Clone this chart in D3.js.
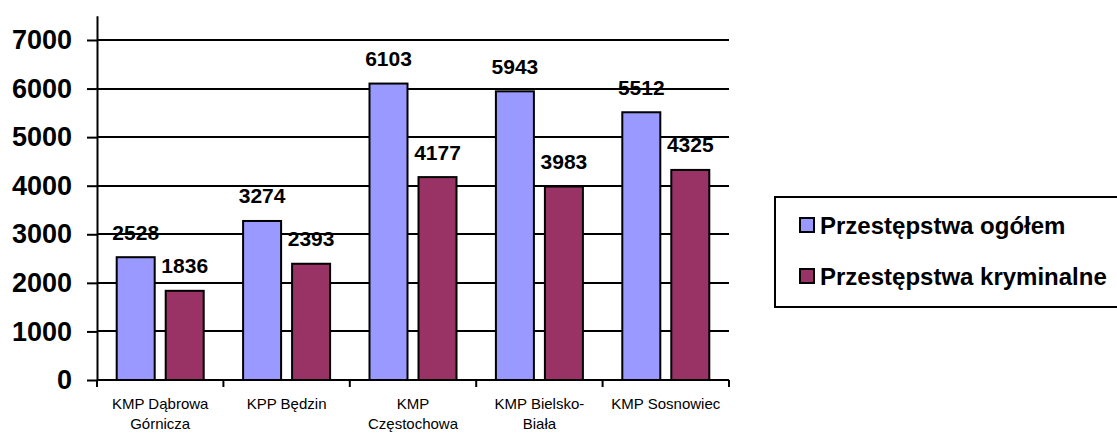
<!DOCTYPE html>
<html>
<head>
<meta charset="utf-8">
<script src="https://cdn.jsdelivr.net/npm/d3@7"></script>
<style>
  body { margin: 0; background: #fff; }
  svg { display: block; font-family: Arial, "Liberation Sans", sans-serif; }
</style>
</head>
<body>
<svg width="1117" height="433"></svg>
<script>
var categories = ["KMP Dąbrowa\nGórnicza", "KPP Będzin", "KMP\nCzęstochowa", "KMP Bielsko-\nBiała", "KMP Sosnowiec"];
var seriesNames = ["Przestępstwa ogółem", "Przestępstwa kryminalne"];
var ogolem = [2528, 3274, 6103, 5943, 5512];
var kryminalne = [1836, 2393, 4177, 3983, 4325];
var yTicks = [0, 1000, 2000, 3000, 4000, 5000, 6000, 7000];

var colors = ["#9999ff", "#993366"];
var values = [ogolem, kryminalne];

var svg = d3.select("svg");

var x = d3.scaleBand()
  .domain(categories)
  .range([97, 729]);

var inner = d3.scaleBand()
  .domain(seriesNames)
  .range([0, 87])
  .paddingInner(0.2245);
var groupOffset = (x.bandwidth() - 87) / 2;

var y = d3.scaleLinear()
  .domain([0, 7500])
  .range([380, 15.7]);

// gridlines
svg.append("g")
  .selectAll("line")
  .data(yTicks.slice(1))
  .enter().append("line")
    .attr("x1", 97)
    .attr("x2", 729)
    .attr("y1", function(d) { return Math.round(y(d)); })
    .attr("y2", function(d) { return Math.round(y(d)); })
    .attr("stroke", "#000")
    .attr("stroke-width", 2);

// bars
var group = svg.append("g")
  .selectAll("g")
  .data(categories)
  .enter().append("g")
    .attr("transform", function(d) { return "translate(" + (x(d) + groupOffset) + ",0)"; });

seriesNames.forEach(function(s, si) {
  group.append("rect")
    .attr("x", inner(s))
    .attr("width", inner.bandwidth())
    .attr("y", function(d, i) { return y(values[si][i]); })
    .attr("height", function(d, i) { return y(0) - y(values[si][i]); })
    .attr("fill", colors[si])
    .attr("stroke", "#000")
    .attr("stroke-width", 2);

  group.append("text")
    .attr("x", inner(s) + inner.bandwidth() / 2)
    .attr("y", function(d, i) { return y(values[si][i]) - 17.5; })
    .attr("text-anchor", "middle")
    .attr("font-size", "21px")
    .attr("font-weight", "bold")
    .text(function(d, i) { return values[si][i]; });
});

// y axis
var yAxis = svg.append("g")
  .attr("transform", "translate(97,0)")
  .call(d3.axisLeft(y).tickValues(yTicks).tickSize(10).tickSizeOuter(0).tickPadding(15).tickFormat(d3.format("d")));
yAxis.select(".domain").attr("stroke-width", 2);
yAxis.selectAll(".tick line").attr("stroke-width", 2);
yAxis.selectAll("text")
  .attr("font-size", "27px")
  .attr("font-weight", "bold")
  .attr("font-family", "Arial, 'Liberation Sans', sans-serif")
  .attr("fill", "#000");

// x axis
svg.append("line")
  .attr("x1", 97).attr("x2", 729)
  .attr("y1", y(0)).attr("y2", y(0))
  .attr("stroke", "#000").attr("stroke-width", 2);

var boundaries = categories.map(function(c) { return x(c); }).concat([x.range()[1]]);
svg.append("g")
  .selectAll("line")
  .data(boundaries)
  .enter().append("line")
    .attr("x1", function(d) { return d; })
    .attr("x2", function(d) { return d; })
    .attr("y1", y(0))
    .attr("y2", y(0) + 7)
    .attr("stroke", "#000")
    .attr("stroke-width", 2);

var catLabel = svg.append("g")
  .selectAll("text")
  .data(categories)
  .enter().append("text")
    .attr("text-anchor", "middle")
    .attr("font-size", "15px")
    .attr("fill", "#000");
catLabel.selectAll("tspan")
  .data(function(d) { return d.split("\n").map(function(l) { return { line: l, c: d }; }); })
  .enter().append("tspan")
    .attr("x", function(d) { return x(d.c) + x.bandwidth() / 2; })
    .attr("y", function(d, i) { return 409 + i * 20; })
    .text(function(d) { return d.line; });

// legend
var legend = svg.append("g");
legend.append("rect")
  .attr("x", 775)
  .attr("y", 197)
  .attr("width", 360)
  .attr("height", 110)
  .attr("fill", "#fff")
  .attr("stroke", "#000")
  .attr("stroke-width", 2);

var item = legend.selectAll("g")
  .data(seriesNames)
  .enter().append("g")
    .attr("transform", function(d, i) { return "translate(800," + (218 + i * 51) + ")"; });
item.append("rect")
  .attr("width", 14)
  .attr("height", 14)
  .attr("fill", function(d, i) { return colors[i]; })
  .attr("stroke", "#000")
  .attr("stroke-width", 2);
item.append("text")
  .attr("x", 20)
  .attr("y", 15.5)
  .attr("font-size", "24px")
  .attr("font-weight", "bold")
  .text(function(d) { return d; });
</script>
</body>
</html>
